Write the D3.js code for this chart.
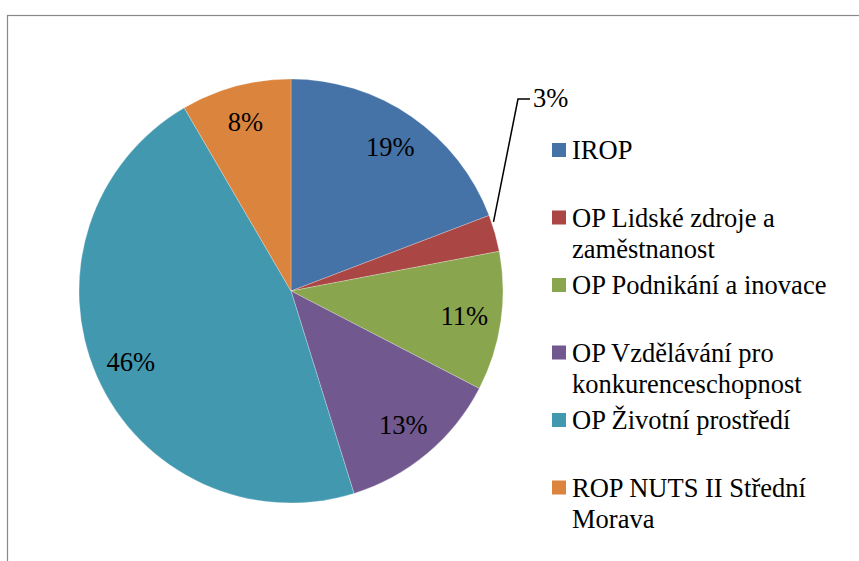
<!DOCTYPE html>
<html>
<head>
<meta charset="utf-8">
<script src="https://cdn.jsdelivr.net/npm/d3@7"></script>
<style>
  body { margin: 0; background: #fff; }
</style>
</head>
<body>
<div id="pieChart"></div>
<script>
// programmes and their shares (%)
var programmes = ["IROP", "OP Lidské zdroje a zaměstnanost", "OP Podnikání a inovace",
                  "OP Vzdělávání pro konkurenceschopnost", "OP Životní prostředí",
                  "ROP NUTS II Střední Morava"];
var shares = [19.2, 2.8, 10.6, 12.6, 46.4, 8.4];
var colours = ["#4572a7", "#aa4643", "#89a54e", "#71588f", "#4198af", "#db843d"];

var serif = "'Liberation Serif', 'Times New Roman', 'DejaVu Serif', serif";

function pieChart(){
    var width = 859,
        height = 561,
        radius = 212,
        cx = 291,
        cy = 291;

    var svg = d3.select("#pieChart")
                .append("svg")
                .attr("width", width)
                .attr("height", height)
                .style("font-family", serif);

    // chart area border (only top and left edges are in view)
    svg.append("rect")
       .attr("x", 7.5).attr("y", 15.5)
       .attr("width", 900).attr("height", 600)
       .attr("fill", "none")
       .attr("stroke", "#898989")
       .attr("stroke-width", 1.2);

    var data = programmes.map(function(p, i) { return {name: p, value: shares[i], colour: colours[i]}; });

    var pie = d3.pie().sort(null).value(function(d) { return d.value; });
    var arcs = pie(data);

    var arc = d3.arc().innerRadius(0).outerRadius(radius);
    var labelArc = d3.arc().innerRadius(175).outerRadius(175);

    var g = svg.append("g").attr("transform", "translate(" + cx + "," + cy + ")");

    g.selectAll("path.slice")
     .data(arcs)
     .enter().append("path")
     .attr("class", "slice")
     .attr("d", arc)
     .attr("fill", function(d) { return d.data.colour; })
     .attr("stroke", "rgba(255,255,255,0.5)")
     .attr("stroke-width", 0.5);

    // labels inside the slices (the small one gets a leader line)
    arcs.forEach(function(d, i) {
        var txt = Math.round(d.data.value) + "%";
        if (d.data.value < 5) {
            var a = d.startAngle + (d.endAngle - d.startAngle) * 0.2;
            var p0 = [Math.sin(a) * (radius + 2), -Math.cos(a) * (radius + 2)];
            var elbow = [227, -192];
            g.append("polyline")
             .attr("points", [p0, elbow, [elbow[0] + 12, elbow[1]]].map(function(p) { return p.join(","); }).join(" "))
             .attr("fill", "none")
             .attr("stroke", "#000")
             .attr("stroke-width", 1.5);
            g.append("text")
             .attr("x", elbow[0] + 15)
             .attr("y", elbow[1])
             .attr("dy", "0.3em")
             .attr("font-family", serif)
             .attr("font-size", "26.5px")
             .text(txt);
        } else {
            var c = labelArc.centroid(d);
            g.append("text")
             .attr("x", c[0])
             .attr("y", c[1])
             .attr("dy", "0.35em")
             .attr("text-anchor", "middle")
             .attr("font-family", serif)
             .attr("font-size", "26.5px")
             .text(txt);
        }
    });

    // legend
    var legend = svg.append("g").attr("transform", "translate(552,159)");
    var item = legend.selectAll("g.item")
                     .data(data)
                     .enter().append("g")
                     .attr("class", "item")
                     .attr("transform", function(d, i) { return "translate(0," + (i * 67.5) + ")"; });

    item.append("rect")
        .attr("x", 0).attr("y", -16)
        .attr("width", 14).attr("height", 14)
        .attr("fill", function(d) { return d.colour; });

    item.append("text")
        .attr("x", 20)
        .attr("y", 0)
        .attr("font-family", serif)
        .attr("font-size", "26.5px")
        .each(function(d) { wrap(d3.select(this), d.name, 268); });
}

// simple word wrap of legend entries
function wrap(text, str, maxWidth){
    var words = str.split(" "),
        line = [],
        tspan = text.append("tspan").attr("x", 20).attr("dy", 0);
    words.forEach(function(w) {
        line.push(w);
        tspan.text(line.join(" "));
        if (tspan.node().getComputedTextLength() > maxWidth && line.length > 1) {
            line.pop();
            tspan.text(line.join(" "));
            line = [w];
            tspan = text.append("tspan").attr("x", 20).attr("dy", "1.18em").text(w);
        }
    });
}

pieChart();
</script>
</body>
</html>
